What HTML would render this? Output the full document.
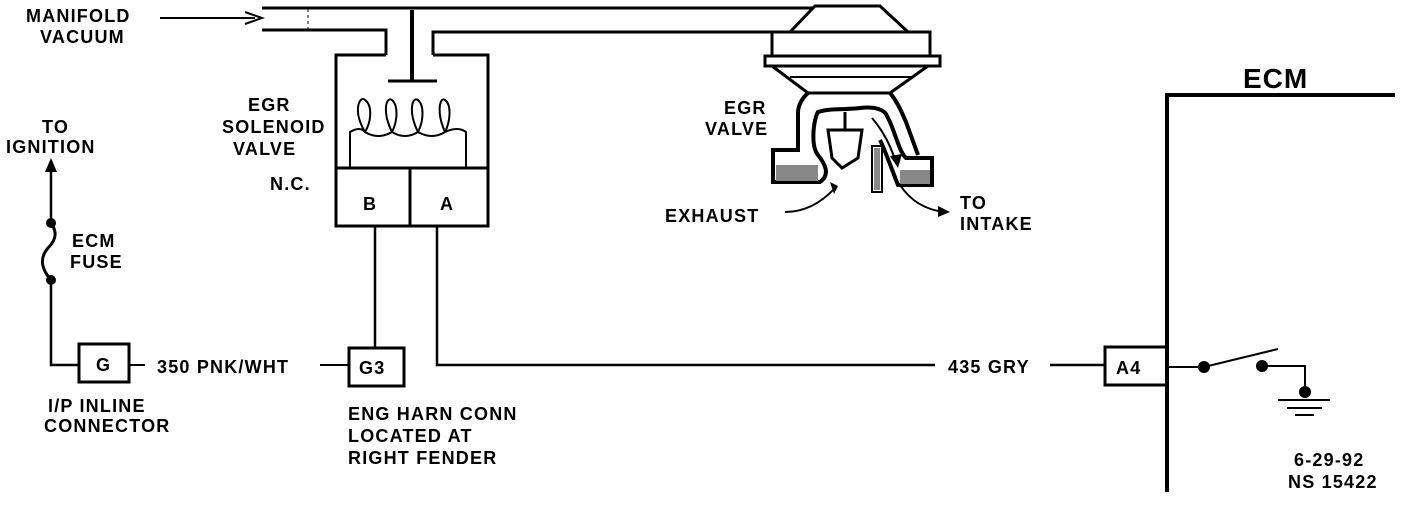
<!DOCTYPE html>
<html><head><style>
body{margin:0;background:#fff;}
svg text{font-family:"Liberation Sans",sans-serif;font-weight:bold;font-size:18px;letter-spacing:1.2px;fill:#000;}
</style></head><body>
<svg width="1408" height="500" viewBox="0 0 1408 500" xmlns="http://www.w3.org/2000/svg">
<g stroke="#000" stroke-width="3" fill="none">
<line x1="262" y1="8" x2="815" y2="8"/>
<path d="M262 30 H386 V55"/>
<path d="M433 55 V32 H790"/>
<line x1="160" y1="18" x2="255" y2="18" stroke-width="2"/>
<path d="M245 12 L262 18 L245 24" stroke-width="2"/>
<line x1="308" y1="9" x2="308" y2="30" stroke-width="1" stroke-dasharray="3,3"/>
<path d="M386 55 H336 V226 H488 V55 H433"/>
<line x1="336" y1="168" x2="488" y2="168"/>
<line x1="410" y1="168" x2="410" y2="226"/>
<line x1="412" y1="10" x2="412" y2="80" stroke-width="4"/>
<line x1="388" y1="81" x2="437" y2="81" stroke-width="3"/>
<path d="M350 168 V132 Q360 126 365 132 C352 110 360 95 365 100 C372 105 372 120 365 132 Q378 140 392 132 C382 112 386 96 392 100 C398 105 398 120 392 132 Q405 140 418 132 C408 112 412 96 418 100 C424 105 424 120 418 132 Q432 140 445 132 C436 112 440 96 445 100 C452 105 450 122 445 132 Q458 126 466 132 V168" stroke-width="2"/>
<line x1="375" y1="226" x2="375" y2="347" stroke-width="2.5"/>
<path d="M437 226 V365 H935" stroke-width="2.5"/>
<line x1="1050" y1="365" x2="1104" y2="365" stroke-width="2.5"/>
<rect x="349" y="348" width="55" height="38" stroke-width="3"/>
<line x1="320" y1="365" x2="349" y2="365" stroke-width="2"/>
<rect x="79" y="344" width="50" height="38" stroke-width="3"/>
<line x1="129" y1="365" x2="145" y2="365" stroke-width="2"/>
<path d="M79 365 H51 V280" stroke-width="2.5"/>
<path d="M51 280 C38 265 42 255 48 248 C58 238 56 230 51 223" stroke-width="3"/>
<line x1="51" y1="223" x2="51" y2="170" stroke-width="2.5"/>
<path d="M1395 95 H1167 V492" stroke-width="4"/>
<rect x="1105" y="347" width="62" height="38" stroke-width="3"/>
<line x1="1167" y1="367" x2="1204" y2="367" stroke-width="2"/>
<line x1="1204" y1="367" x2="1278" y2="349" stroke-width="2"/>
<path d="M1262 366 H1305 V392" stroke-width="2"/>
<line x1="1278" y1="400" x2="1330" y2="400" stroke-width="2"/>
<line x1="1287" y1="408" x2="1322" y2="408" stroke-width="2"/>
<line x1="1295" y1="415" x2="1314" y2="415" stroke-width="2"/>
<path d="M790 32 L815 6 H880 L908 32 Z" fill="#fff"/>
<path d="M772 32 H930 V56 H772 Z" fill="#fff"/>
<rect x="765" y="56" width="175" height="10" fill="#fff"/>
<path d="M772 66 L808 93 H890 L928 66"/>
<line x1="790" y1="77" x2="912" y2="77" stroke-width="2"/>
<path d="M808 93 C800 100 798 108 798 113 V150 H773 V182 H820 C830 175 826 165 818 155 C810 145 814 118 818 112 C830 108 845 110 860 108 C875 106 885 110 887 116 C895 130 898 150 906 158 H932 V185 H898 C892 170 885 150 880 140" stroke-width="4"/>
<path d="M890 93 C896 100 900 108 906 122 L918 155" stroke-width="4"/>
<path d="M828 130 H862 L858 158 L842 168 L832 158 Z" fill="#fff"/>
<line x1="845" y1="112" x2="845" y2="130"/>
<rect x="872" y="146" width="10" height="46" stroke-width="2"/>
<path d="M785 212 C805 212 822 202 835 188" stroke-width="2"/>
<path d="M900 185 C910 200 925 210 945 212" stroke-width="2"/>
<path d="M872 118 C884 132 890 145 896 162" stroke-width="2"/>
</g>
<rect x="776" y="165" width="42" height="16" fill="#888"/>
<rect x="900" y="170" width="30" height="14" fill="#888"/>
<rect x="874" y="148" width="6" height="42" fill="#888"/>
<path d="M830 182 L838 186 L834 194 Z"/><path d="M938 206 L950 212 L938 217 Z"/><path d="M890 156 L898 168 L902 154 Z"/>
<path d="M45 172 L51 158 L57 172 Z"/>
<g fill="#000">
<circle cx="51" cy="223" r="5"/><circle cx="51" cy="280" r="5"/>
<circle cx="1204" cy="367" r="6"/><circle cx="1262" cy="366" r="6"/><circle cx="1305" cy="392" r="6"/>
</g>
<text x="26" y="22">MANIFOLD</text><text x="40" y="43">VACUUM</text>
<text x="248" y="111">EGR</text><text x="222" y="133">SOLENOID</text><text x="233" y="155">VALVE</text>
<text x="270" y="190">N.C.</text>
<text x="363" y="210">B</text><text x="440" y="210">A</text>
<text x="42" y="133">TO</text><text x="6" y="153">IGNITION</text>
<text x="72" y="247">ECM</text><text x="70" y="268">FUSE</text>
<text x="96" y="371">G</text>
<text x="157" y="373">350 PNK/WHT</text>
<text x="359" y="374">G3</text>
<text x="48" y="412">I/P INLINE</text><text x="44" y="432">CONNECTOR</text>
<text x="348" y="420">ENG HARN CONN</text><text x="348" y="442">LOCATED AT</text><text x="348" y="464">RIGHT FENDER</text>
<text x="724" y="114">EGR</text><text x="705" y="135">VALVE</text>
<text x="665" y="222">EXHAUST</text>
<text x="960" y="209">TO</text><text x="960" y="230">INTAKE</text>
<text x="948" y="373">435 GRY</text>
<text x="1116" y="374">A4</text>
<text x="1243" y="88" style="font-size:28px;letter-spacing:1px">ECM</text>
<text x="1294" y="466">6-29-92</text><text x="1288" y="488">NS 15422</text>
</svg>
</body></html>
